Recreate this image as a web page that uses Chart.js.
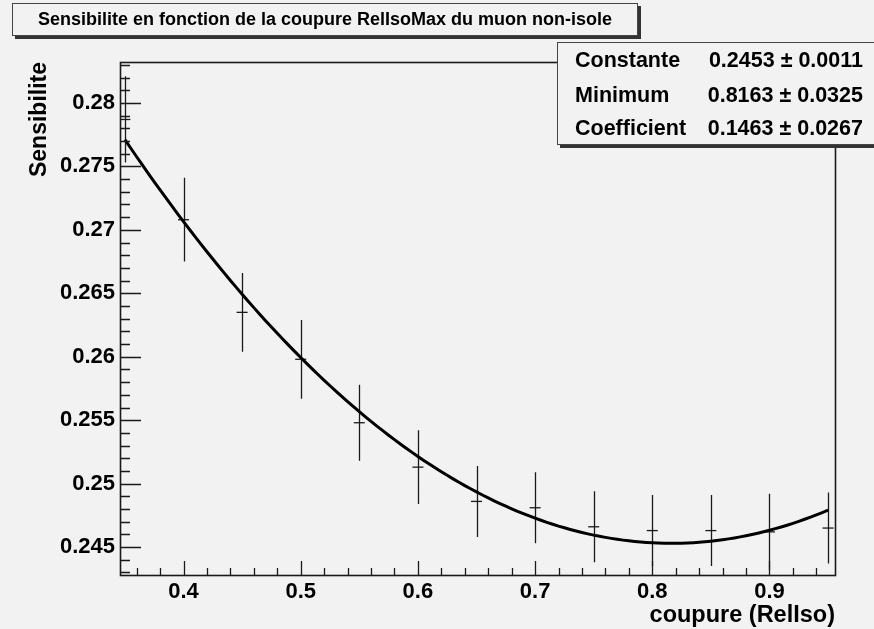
<!DOCTYPE html>
<html>
<head>
<meta charset="utf-8">
<title>Sensibilite RelIso</title>
<script src="https://cdn.jsdelivr.net/npm/chart.js@4.4.0/dist/chart.umd.min.js"></script>
<style>
  html, body { margin: 0; padding: 0; background: #f2f2f2; overflow: hidden; }
  #wrap { position: relative; width: 874px; height: 629px; overflow: hidden; }
  #wrap canvas { position: absolute; left: 0; top: 0; }
  .box {
    position: absolute; background: #f2f2f2; border: 1px solid #444;
    box-shadow: 3px 3px 0 #333; color: #000;
    font-family: "Liberation Sans", Arial, sans-serif; font-weight: bold;
  }
  #title { left: 12px; top: 3px; width: 624px; height: 31px; line-height: 31px; font-size: 18px; text-align: center; }
  #stats { left: 557px; top: 42px; width: 340px; height: 101px; font-size: 21.5px; }
  .row { position: absolute; left: 17px; width: 288px; height: 26px; line-height: 26px; }
  .row .lbl { position: absolute; left: 0; }
  .row .val { position: absolute; right: 0; }
</style>
</head>
<body>
<div id="wrap">
  <canvas id="chart"></canvas>
  <div class="box" id="title">Sensibilite en fonction de la coupure RelIsoMax du muon non-isole</div>
  <div class="box" id="stats"></div>
</div>
<script>
// sensitivity vs RelIso cut
const cutValues = [0.35, 0.40, 0.45, 0.50, 0.55, 0.60, 0.65, 0.70, 0.75, 0.80, 0.85, 0.90, 0.95];
const sensitivity = [0.2787, 0.2708, 0.2635, 0.2598, 0.2548, 0.2513, 0.2486, 0.2481, 0.2466, 0.2463, 0.2463, 0.2462, 0.2465];
const sensitivityErr = [0.0034, 0.0033, 0.0031, 0.0031, 0.0030, 0.0029, 0.0028, 0.0028, 0.0028, 0.0028, 0.0028, 0.0030, 0.0028];

// parabola fit: Constante + Coefficient * (x - Minimum)^2
const fitNames = ['Constante', 'Minimum', 'Coefficient'];
const fitValues = [0.2453, 0.8163, 0.1463];
const fitErrors = [0.0011, 0.0325, 0.0267];

const xTicks = [0.4, 0.5, 0.6, 0.7, 0.8, 0.9];
const yTicks = [0.245, 0.25, 0.255, 0.26, 0.265, 0.27, 0.275, 0.28];

const X_MIN = 0.3458, X_MAX = 0.9559;
const Y_MIN = 0.2428, Y_MAX = 0.28323;

// stats box
const rowTops = [4, 39, 72];
document.getElementById('stats').innerHTML = fitNames.map((n, i) =>
  `<div class="row" style="top:${rowTops[i]}px"><span class="lbl">${n}</span>` +
  `<span class="val">${fitValues[i].toFixed(4)} ± ${fitErrors[i].toFixed(4)}</span></div>`
).join('');

// fitted function sampled along the plotted range
const fitCurve = [];
for (let i = 0; i <= 120; i++) {
  const x = 0.35 + i * 0.005;
  fitCurve.push({ x: x, y: fitValues[0] + fitValues[2] * (x - fitValues[1]) ** 2 });
}

const points = cutValues.map((c, i) => ({ x: c, y: sensitivity[i] }));

// frame with inward ticks + vertical error bars
const rootFrame = {
  id: 'rootFrame',
  beforeDatasetsDraw(chart) {
    const { ctx, chartArea: a, scales: { x, y } } = chart;
    ctx.save();
    ctx.beginPath();
    ctx.rect(a.left, a.top, a.right - a.left, a.bottom - a.top);
    ctx.clip();
    ctx.strokeStyle = '#1a1a1a';
    ctx.lineWidth = 1.3;
    ctx.beginPath();
    cutValues.forEach((c, i) => {
      const px = Math.round(x.getPixelForValue(c)) + 0.5;
      ctx.moveTo(px, y.getPixelForValue(sensitivity[i] + sensitivityErr[i]));
      ctx.lineTo(px, y.getPixelForValue(sensitivity[i] - sensitivityErr[i]));
    });
    ctx.stroke();
    ctx.restore();
  },
  afterDraw(chart) {
    const { ctx, chartArea: a, scales: { x, y } } = chart;
    ctx.save();
    ctx.strokeStyle = '#1a1a1a';
    ctx.lineWidth = 1.3;
    ctx.beginPath();
    // y axis: minor every 0.001, major at labels
    for (let k = Math.ceil(Y_MIN * 1000); k <= Math.floor(Y_MAX * 1000); k++) {
      const py = Math.round(y.getPixelForValue(k / 1000)) + 0.5;
      ctx.moveTo(a.left, py);
      ctx.lineTo(a.left + 10, py);
    }
    yTicks.forEach(v => {
      const py = Math.round(y.getPixelForValue(v)) + 0.5;
      ctx.moveTo(a.left, py);
      ctx.lineTo(a.left + 21, py);
    });
    // x axis: minor every 0.02
    for (let k = Math.ceil(X_MIN * 50); k <= Math.floor(X_MAX * 50); k++) {
      const px = Math.round(x.getPixelForValue(k / 50)) + 0.5;
      ctx.moveTo(px, a.bottom);
      ctx.lineTo(px, a.bottom - 7);
    }
    xTicks.forEach(v => {
      const px = Math.round(x.getPixelForValue(v)) + 0.5;
      ctx.moveTo(px, a.bottom);
      ctx.lineTo(px, a.bottom - 14);
    });
    ctx.stroke();
    ctx.lineWidth = 1.6;
    ctx.strokeRect(Math.round(a.left) + 0.5, Math.round(a.top) + 0.5,
      Math.round(a.right - a.left), Math.round(a.bottom - a.top));
    ctx.restore();
  }
};

Chart.defaults.font.family = '"Liberation Sans", Arial, sans-serif';
Chart.defaults.color = '#000';

new Chart(document.getElementById('chart'), {
  type: 'scatter',
  data: {
    datasets: [
      {
        label: 'fit',
        data: fitCurve,
        showLine: true,
        borderColor: '#000',
        borderWidth: 3,
        pointRadius: 0,
        tension: 0
      },
      {
        label: 'Sensibilite',
        data: points,
        pointStyle: 'line',
        pointRadius: 5.5,
        borderColor: '#1a1a1a',
        borderWidth: 1.3,
        backgroundColor: '#1a1a1a'
      }
    ]
  },
  options: {
    responsive: true,
    maintainAspectRatio: false,
    animation: false,
    events: [],
    layout: { padding: { left: 0, right: 39, top: 62, bottom: 0 } },
    plugins: { legend: { display: false }, tooltip: { enabled: false } },
    scales: {
      x: {
        type: 'linear',
        min: X_MIN,
        max: X_MAX,
        grid: { display: false, drawTicks: false },
        border: { display: false },
        afterBuildTicks: s => { s.ticks = xTicks.map(v => ({ value: v })); },
        afterFit: s => { s.height = 54; },
        ticks: {
          padding: 4,
          maxRotation: 0,
          font: { size: 22, weight: 'bold', lineHeight: 1.2 },
          callback: v => String(v)
        },
        title: {
          display: true,
          text: 'coupure (RelIso)',
          align: 'end',
          padding: { top: 0, bottom: -1 },
          font: { size: 23.5, weight: 'bold', lineHeight: 1.2 }
        }
      },
      y: {
        type: 'linear',
        min: Y_MIN,
        max: Y_MAX,
        grid: { display: false, drawTicks: false },
        border: { display: false },
        afterBuildTicks: s => { s.ticks = yTicks.map(v => ({ value: v })); },
        afterFit: s => { s.width = 120; },
        ticks: {
          padding: 5,
          font: { size: 22, weight: 'bold', lineHeight: 1.2 },
          callback: v => String(v)
        },
        title: {
          display: true,
          text: 'Sensibilite',
          align: 'end',
          padding: { top: 26, bottom: 0 },
          font: { size: 23, weight: 'bold', lineHeight: 1.2 }
        }
      }
    }
  },
  plugins: [rootFrame]
});
</script>
</body>
</html>
